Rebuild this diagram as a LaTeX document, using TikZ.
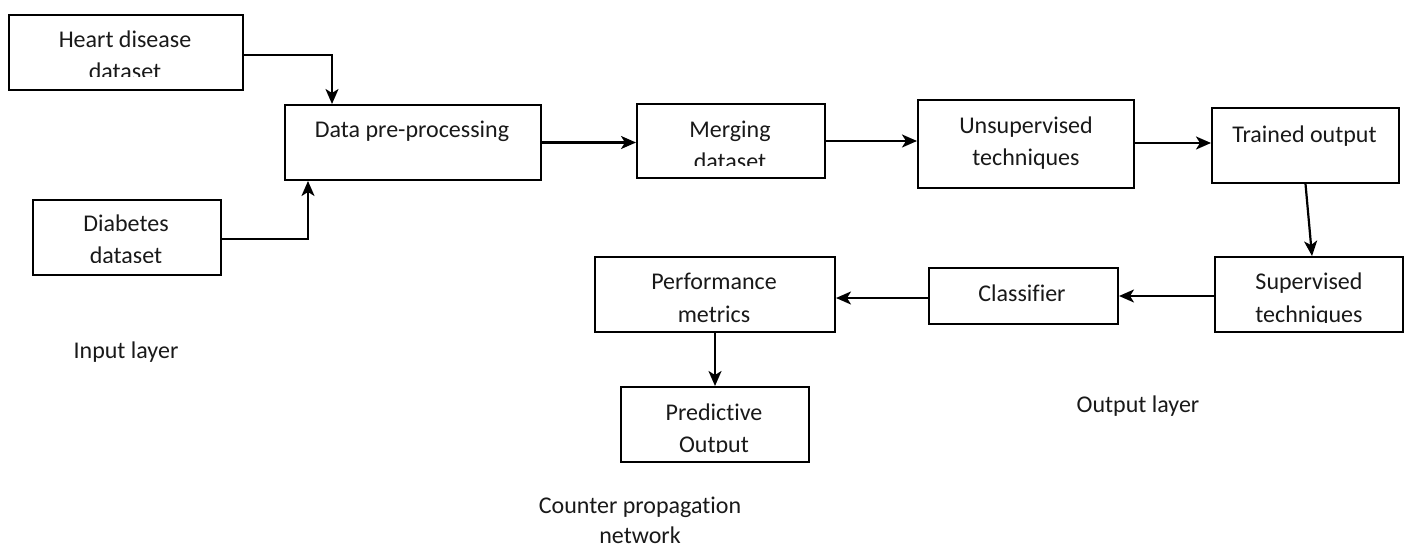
\documentclass[tikz,border=0pt]{standalone}
\usepackage{fontspec}
\setmainfont{Carlito}[Ligatures={NoCommon,NoContextual}]
\usetikzlibrary{arrows.meta}
\tikzset{
  box/.style={draw=black, line width=2pt, inner sep=0pt, anchor=north west},
  txt/.style={anchor=base, inner sep=0pt, font=\fontsize{24}{32}\selectfont, text=black!90},
  arr/.style={line width=2.2pt, -{Stealth[length=15pt,width=13pt,inset=4pt]}}
}
\newcommand\mkbox[5]{% name, x1, y1, x2, y2
  \node[box, minimum width=#4-#2, minimum height=#5-#3] (#1) at (#2,#3) {};}
\begin{document}
\begin{tikzpicture}[x=1pt,y=-1pt]
\useasboundingbox (0,0) rectangle (1410,545);
% boxes
\mkbox{heart}{8}{14}{242}{89}
\mkbox{pre}{284}{104}{540}{179}
\mkbox{diab}{32}{199}{220}{274}
\mkbox{merge}{636}{103}{824}{177}
\mkbox{unsup}{917}{99}{1133}{187}
\mkbox{trained}{1211}{107}{1398}{182}
\mkbox{sup}{1214}{256}{1402}{331}
\mkbox{class}{928}{267}{1117}{323}
\mkbox{perf}{594}{256}{834}{331}
\mkbox{pred}{620}{386}{808}{461}
% texts
\begin{scope}
 \clip (8,14) rectangle (242,77);
 \node[txt] (heart1) at (125,48) {Heart disease};
 \node[txt] (heart2) at (125,80) {dataset};
\end{scope}
\node[txt] (pre1) at (412,138) {Data pre-processing};
\begin{scope}
 \clip (32,199) rectangle (220,263);
 \node[txt] (diab1) at (126,232) {Diabetes};
 \node[txt] (diab2) at (126,264) {dataset};
\end{scope}
\begin{scope}
 \clip (636,103) rectangle (824,166);
 \node[txt] (merge1) at (730,138) {Merging};
 \node[txt] (merge2) at (730,170) {dataset};
\end{scope}
\node[txt] (unsup1) at (1026,134) {Unsupervised};
\node[txt] (unsup2) at (1026,166) {techniques};
\node[txt] (trained1) at (1304.5,143) {Trained output};
\begin{scope}
 \clip (1214,256) rectangle (1402,322);
 \node[txt] (sup1) at (1309,290) {Supervised};
 \node[txt] (sup2) at (1309,322) {techniques};
\end{scope}
\node[txt] (class1) at (1022,301) {Classifier};
\begin{scope}
 \clip (594,256) rectangle (834,322);
 \node[txt] (perf1) at (714,290) {Performance};
 \node[txt] (perf2) at (714,322) {metrics};
\end{scope}
\begin{scope}
 \clip (620,386) rectangle (808,452);
 \node[txt] (pred1) at (714,420) {Predictive};
 \node[txt] (pred2) at (714,452) {Output};
\end{scope}
\node[txt] (inlayer) at (126,358) {Input layer};
\node[txt] (outlayer) at (1138,412) {Output layer};
\node[txt] (cpn1) at (640,513) {Counter propagation};
\node[txt] (cpn2) at (640,543) {network};
% connectors
\draw[arr] ([yshift=-2.5pt]heart.east) -| ([xshift=48pt]pre.north west);
\draw[arr] ([yshift=-1.5pt]diab.east) -| ([xshift=24pt]pre.south west);
\draw[arr] (pre.east) -- (pre.east -| merge.west);
\draw[arr] (merge.east) -- (merge.east -| unsup.west);
\draw[arr] ([yshift=1pt]unsup.east) -- ([yshift=1pt]unsup.east -| trained.west);
\draw[arr] (trained.south) -- ([xshift=3pt]sup.north);
\draw[arr] ([yshift=-1.5pt]sup.west) -- (class.east);
\draw[arr] ([yshift=-2pt]class.west) -- ([yshift=-2pt]class.west -| perf.east);
\draw[arr] (perf.south) -- (pred.north);
\end{tikzpicture}
\end{document}
